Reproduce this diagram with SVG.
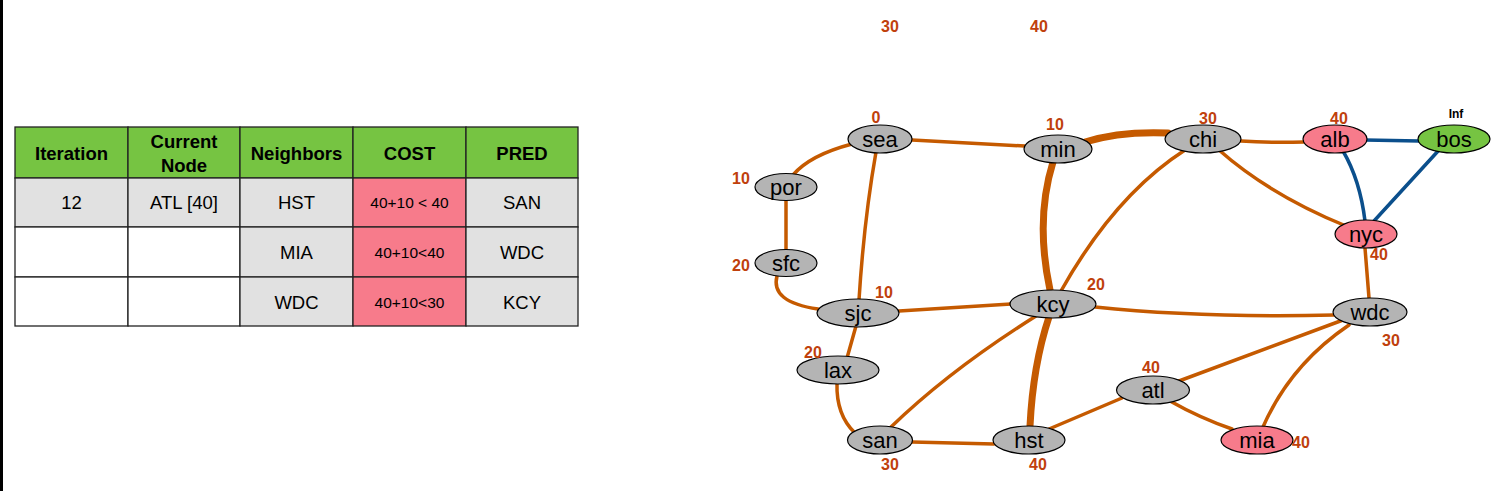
<svg xmlns="http://www.w3.org/2000/svg" width="1505" height="491" viewBox="0 0 1505 491">
<style>
.cell{stroke:#222;stroke-width:1.3}
.hd{fill:#76c442}
.gr{fill:#e1e1e1}
.pk{fill:#f77b8b}
.wh{fill:#fff}
.th{font-family:"Liberation Sans",Arial,sans-serif;font-weight:bold;font-size:18.5px;fill:#000;text-anchor:middle}
.td{font-family:"Liberation Sans",Arial,sans-serif;font-size:18.5px;fill:#000;text-anchor:middle}
.tc{font-family:"Liberation Sans",Arial,sans-serif;font-size:15.5px;fill:#000;text-anchor:middle}
.e{fill:none;stroke:#c55a00;stroke-width:3.5;stroke-linecap:round}
.ek{fill:none;stroke:#c55a00;stroke-width:7;stroke-linecap:round}
.eb{fill:none;stroke:#0b4f8c;stroke-width:3.5;stroke-linecap:round}
.n ellipse{stroke:#000;stroke-width:1.2}
.ng{fill:#b4b4b4}
.np{fill:#f77b8b}
.nn{fill:#76c442}
.nt{font-family:"Liberation Sans",Arial,sans-serif;font-size:22px;fill:#000;text-anchor:middle}
.lb{font-family:"Liberation Sans",Arial,sans-serif;font-weight:bold;font-size:16px;fill:#c0400c;text-anchor:middle}
.lk{font-family:"Liberation Sans",Arial,sans-serif;font-weight:bold;font-size:12px;fill:#000;text-anchor:middle}
</style>
<rect x="0" y="0" width="1505" height="491" fill="#fff"/>
<rect x="0" y="0" width="3" height="491" fill="#000"/>

<g id="table">
<rect class="cell hd" x="15" y="127" width="113" height="51"/>
<rect class="cell hd" x="128" y="127" width="112" height="51"/>
<rect class="cell hd" x="240" y="127" width="113" height="51"/>
<rect class="cell hd" x="353" y="127" width="113" height="51"/>
<rect class="cell hd" x="466" y="127" width="112" height="51"/>
<text class="th" x="71.5" y="160">Iteration</text>
<text class="th" x="184" y="148">Current</text>
<text class="th" x="184" y="172">Node</text>
<text class="th" x="296.5" y="160">Neighbors</text>
<text class="th" x="409.5" y="160">COST</text>
<text class="th" x="522" y="160">PRED</text>

<rect class="cell gr" x="15" y="178" width="113" height="49"/>
<rect class="cell gr" x="128" y="178" width="112" height="49"/>
<rect class="cell gr" x="240" y="178" width="113" height="49"/>
<rect class="cell pk" x="353" y="178" width="113" height="49"/>
<rect class="cell gr" x="466" y="178" width="112" height="49"/>
<text class="td" x="71.5" y="209">12</text>
<text class="td" x="184" y="209">ATL [40]</text>
<text class="td" x="296.5" y="209">HST</text>
<text class="tc" x="409.5" y="208">40+10 &lt; 40</text>
<text class="td" x="522" y="209">SAN</text>

<rect class="cell wh" x="15" y="227" width="113" height="50"/>
<rect class="cell wh" x="128" y="227" width="112" height="50"/>
<rect class="cell gr" x="240" y="227" width="113" height="50"/>
<rect class="cell pk" x="353" y="227" width="113" height="50"/>
<rect class="cell gr" x="466" y="227" width="112" height="50"/>
<text class="td" x="296.5" y="259">MIA</text>
<text class="tc" x="409.5" y="258">40+10&lt;40</text>
<text class="td" x="522" y="259">WDC</text>

<rect class="cell wh" x="15" y="277" width="113" height="49"/>
<rect class="cell wh" x="128" y="277" width="112" height="49"/>
<rect class="cell gr" x="240" y="277" width="113" height="49"/>
<rect class="cell pk" x="353" y="277" width="113" height="49"/>
<rect class="cell gr" x="466" y="277" width="112" height="49"/>
<text class="td" x="296.5" y="309">WDC</text>
<text class="tc" x="409.5" y="308">40+10&lt;30</text>
<text class="td" x="522" y="309">KCY</text>
</g>

<g id="connectors">
<path class="e" d="M852,144 Q810,155 793,175"/>
<path class="e" d="M912,140 L1025,146"/>
<path class="e" d="M876,152 Q864,220 859,300"/>
<path class="e" d="M786,200 L786,250"/>
<path class="e" d="M777,276 Q770,302 818,309"/>
<path class="e" d="M899,311 L1011,304"/>
<path class="e" d="M856,326 L847,358"/>
<path class="e" d="M837,383 Q836,415 855,433"/>
<path class="ek" d="M1085,142 Q1120,131 1168,133"/>
<path class="ek" d="M1053,162 Q1035,220 1050,290"/>
<path class="e" d="M1241,141 Q1270,143 1304,142"/>
<path class="e" d="M1185,150 Q1115,195 1061,291"/>
<path class="e" d="M1219,150 Q1270,195 1346,226"/>
<path class="eb" d="M1365,140 L1419,141"/>
<path class="eb" d="M1343,151 Q1360,180 1365,221"/>
<path class="eb" d="M1439,150 L1374,221"/>
<path class="e" d="M1365,248 L1369,298"/>
<path class="e" d="M1095,307 Q1200,318 1334,315"/>
<path class="e" d="M1036,316 Q950,370 891,427"/>
<path class="ek" d="M1049,317 Q1033,365 1030,426"/>
<path class="e" d="M912,442 L994,444"/>
<path class="e" d="M1049,429 L1122,398"/>
<path class="e" d="M1179,381 L1343,320"/>
<path class="e" d="M1170,401 Q1200,418 1232,429"/>
<path class="e" d="M1263,427 Q1290,365 1349,325"/>
</g>

<g id="node-sea" class="n"><ellipse class="ng" cx="880" cy="139" rx="32" ry="14"/><text class="nt" x="880" y="147">sea</text></g>
<g id="node-min" class="n"><ellipse class="ng" cx="1058" cy="149" rx="34" ry="14"/><text class="nt" x="1058" y="157">min</text></g>
<g id="node-por" class="n"><ellipse class="ng" cx="786" cy="187" rx="31" ry="13.5"/><text class="nt" x="786" y="195">por</text></g>
<g id="node-sfc" class="n"><ellipse class="ng" cx="786" cy="263" rx="31" ry="13.5"/><text class="nt" x="786" y="271">sfc</text></g>
<g id="node-sjc" class="n"><ellipse class="ng" cx="858" cy="313" rx="41" ry="14"/><text class="nt" x="858" y="321">sjc</text></g>
<g id="node-kcy" class="n"><ellipse class="ng" cx="1053" cy="304" rx="43" ry="14"/><text class="nt" x="1053" y="312">kcy</text></g>
<g id="node-chi" class="n"><ellipse class="ng" cx="1203" cy="139" rx="38" ry="14"/><text class="nt" x="1203" y="147">chi</text></g>
<g id="node-alb" class="n"><ellipse class="np" cx="1335" cy="139" rx="32" ry="14"/><text class="nt" x="1335" y="147">alb</text></g>
<g id="node-bos" class="n"><ellipse class="nn" cx="1454" cy="139" rx="36" ry="14"/><text class="nt" x="1454" y="147">bos</text></g>
<g id="node-nyc" class="n"><ellipse class="np" cx="1366" cy="234" rx="31" ry="14"/><text class="nt" x="1366" y="242">nyc</text></g>
<g id="node-wdc" class="n"><ellipse class="ng" cx="1370" cy="312" rx="37" ry="14"/><text class="nt" x="1370" y="320">wdc</text></g>
<g id="node-lax" class="n"><ellipse class="ng" cx="838" cy="370" rx="41" ry="14"/><text class="nt" x="838" y="378">lax</text></g>
<g id="node-san" class="n"><ellipse class="ng" cx="880" cy="440" rx="32.5" ry="14"/><text class="nt" x="880" y="448">san</text></g>
<g id="node-hst" class="n"><ellipse class="ng" cx="1029" cy="440" rx="36" ry="14"/><text class="nt" x="1029" y="448">hst</text></g>
<g id="node-atl" class="n"><ellipse class="ng" cx="1153" cy="390" rx="36.5" ry="14"/><text class="nt" x="1153" y="398">atl</text></g>
<g id="node-mia" class="n"><ellipse class="np" cx="1257" cy="440" rx="36" ry="14"/><text class="nt" x="1257" y="448">mia</text></g>

<g id="labels">
<text class="lb" x="890" y="32">30</text>
<text class="lb" x="1039" y="32">40</text>
<text class="lb" x="876" y="123">0</text>
<text class="lb" x="1055" y="130">10</text>
<text class="lb" x="1208" y="124">30</text>
<text class="lb" x="1339" y="124">40</text>
<text class="lk" x="1456" y="118">Inf</text>
<text class="lb" x="741" y="184">10</text>
<text class="lb" x="741" y="271">20</text>
<text class="lb" x="884" y="298">10</text>
<text class="lb" x="1096" y="290">20</text>
<text class="lb" x="1379" y="260">40</text>
<text class="lb" x="1391" y="346">30</text>
<text class="lb" x="813" y="358">20</text>
<text class="lb" x="1151" y="373">40</text>
<text class="lb" x="1301" y="448">40</text>
<text class="lb" x="890" y="470">30</text>
<text class="lb" x="1038" y="470">40</text>
</g>
</svg>
